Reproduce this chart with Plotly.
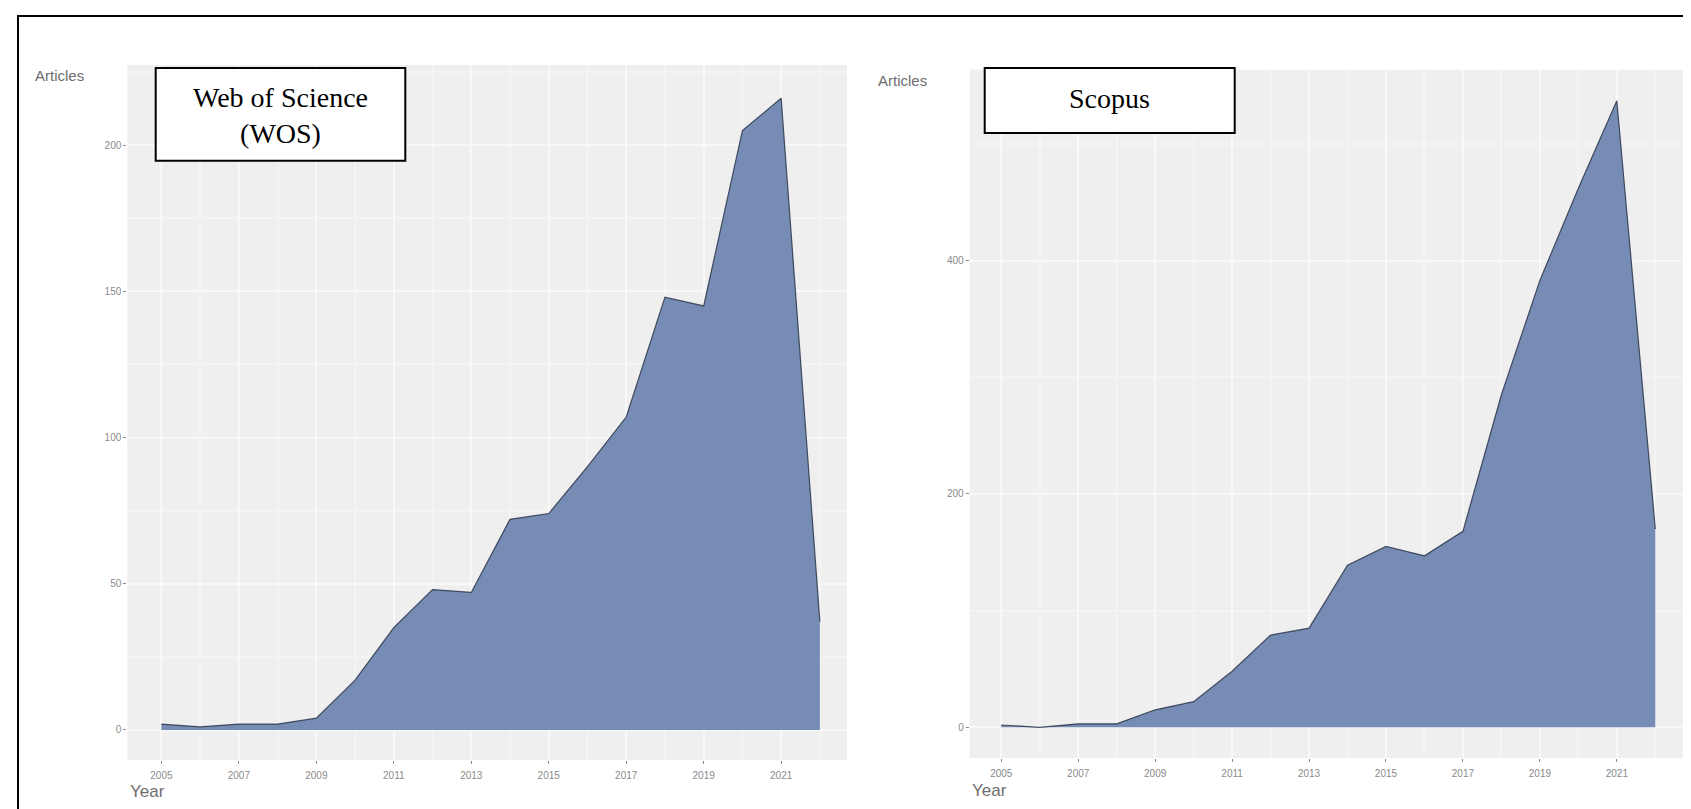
import plotly.graph_objects as go

W, H = 1691, 809

years = list(range(2005, 2023))
wos_articles = [2, 1, 2, 2, 4, 17, 35, 48, 47, 72, 74, 90, 107, 148, 145, 205, 216, 37]
scopus_articles = [2, 0, 3, 3, 15, 22, 48, 79, 85, 139, 155, 147, 168, 285, 383, 462, 537, 170]

wos_yticks = [0, 50, 100, 150, 200]
scopus_yticks = [0, 200, 400]
x_ticks = list(range(2005, 2022, 2))

FILL = "#768cb4"
LINE = "rgba(35,45,65,0.8)"
BG = "#efefef"
GRID_MAJOR = "#f8f8f8"
GRID_MINOR = "#f4f4f4"
TICKC = "#8a8a8a"

def px(x):
    return x / W

def py(y):
    return 1 - y / H

fig = go.Figure()
fig.add_trace(go.Scatter(x=years, y=wos_articles, mode="lines", fill="tozeroy",
                         fillcolor=FILL, line=dict(color=LINE, width=1.2),
                         xaxis="x", yaxis="y", showlegend=False, hoverinfo="x+y"))
fig.add_trace(go.Scatter(x=years, y=scopus_articles, mode="lines", fill="tozeroy",
                         fillcolor=FILL, line=dict(color=LINE, width=1.2),
                         xaxis="x2", yaxis="y2", showlegend=False, hoverinfo="x+y"))

tickfont = dict(family="Liberation Sans, Arial, sans-serif", size=10, color=TICKC)

def xaxis(domain, rng, anchor):
    return dict(domain=domain, range=rng, anchor=anchor, tickmode="array",
                tickvals=x_ticks, ticktext=[str(t) for t in x_ticks],
                ticks="outside", ticklen=3, tickwidth=1, tickcolor=TICKC,
                tickfont=tickfont, showgrid=True, gridcolor=GRID_MAJOR, gridwidth=2,
                minor=dict(dtick=1, tick0=2005, showgrid=True, gridcolor=GRID_MINOR,
                           gridwidth=1.5, ticks=""),
                zeroline=False, showline=False, fixedrange=True, ticklabelstandoff=3)

def yaxis(domain, rng, anchor, ticks, minor_dtick):
    return dict(domain=domain, range=rng, anchor=anchor, tickmode="array",
                tickvals=ticks, ticktext=[str(t) for t in ticks],
                ticks="outside", ticklen=3, tickwidth=1, tickcolor=TICKC,
                tickfont=tickfont, showgrid=True, gridcolor=GRID_MAJOR, gridwidth=2,
                minor=dict(dtick=minor_dtick, tick0=0, showgrid=True, gridcolor=GRID_MINOR,
                           gridwidth=1.5, ticks=""),
                zeroline=False, showline=False, fixedrange=True)

fig.update_layout(
    width=W, height=H, autosize=False,
    margin=dict(l=0, r=0, t=0, b=0, pad=0),
    paper_bgcolor="white", plot_bgcolor=BG,
    xaxis=xaxis([px(119.3), px(839)], [2004.12, 2022.7], "y"),
    yaxis=yaxis([py(752), py(57)], [-10.3, 227.4], "x", wos_yticks, 25),
    xaxis2=xaxis([px(961.7), px(1680)], [2004.18, 2022.85], "y2"),
    yaxis2=yaxis([py(750), py(61.7)], [-26.3, 563.6], "x2", scopus_yticks, 100),
)

title_font = dict(family="Liberation Sans, Arial, sans-serif", color="#6e6e6e")
serif = dict(family="Liberation Serif, Times New Roman, serif", size=28, color="black")

annotations = [
    dict(text="Articles", x=px(25), y=py(67), xanchor="left", yanchor="middle",
         font=dict(size=15, **title_font)),
    dict(text="Articles", x=px(868), y=py(72), xanchor="left", yanchor="middle",
         font=dict(size=15, **title_font)),
    dict(text="Year", x=px(120), y=py(783), xanchor="left", yanchor="middle",
         font=dict(size=17, **title_font)),
    dict(text="Year", x=px(962), y=py(782), xanchor="left", yanchor="middle",
         font=dict(size=17, **title_font)),
    dict(text="Web of Science<br>(WOS)", x=px(272.5), y=py(107), xanchor="center",
         yanchor="middle", align="center", font=serif),
    dict(text="Scopus", x=px(1101.7), y=py(90), xanchor="center", yanchor="middle",
         font=serif),
]
for a in annotations:
    a.update(xref="paper", yref="paper", showarrow=False)
fig.update_layout(annotations=annotations)

shapes = [
    dict(type="rect", x0=px(10), x1=px(1720), y0=py(8), y1=py(840),
         line=dict(color="black", width=2), fillcolor="rgba(0,0,0,0)", layer="above"),
    dict(type="rect", x0=px(147.7), x1=px(397.3), y0=py(60), y1=py(152.7),
         line=dict(color="black", width=2), fillcolor="white", layer="above"),
    dict(type="rect", x0=px(976.7), x1=px(1226.7), y0=py(60), y1=py(125),
         line=dict(color="black", width=2), fillcolor="white", layer="above"),
]
for s in shapes:
    s.update(xref="paper", yref="paper")
fig.update_layout(shapes=shapes)

fig.write_html("out.html", config={"displayModeBar": False})
